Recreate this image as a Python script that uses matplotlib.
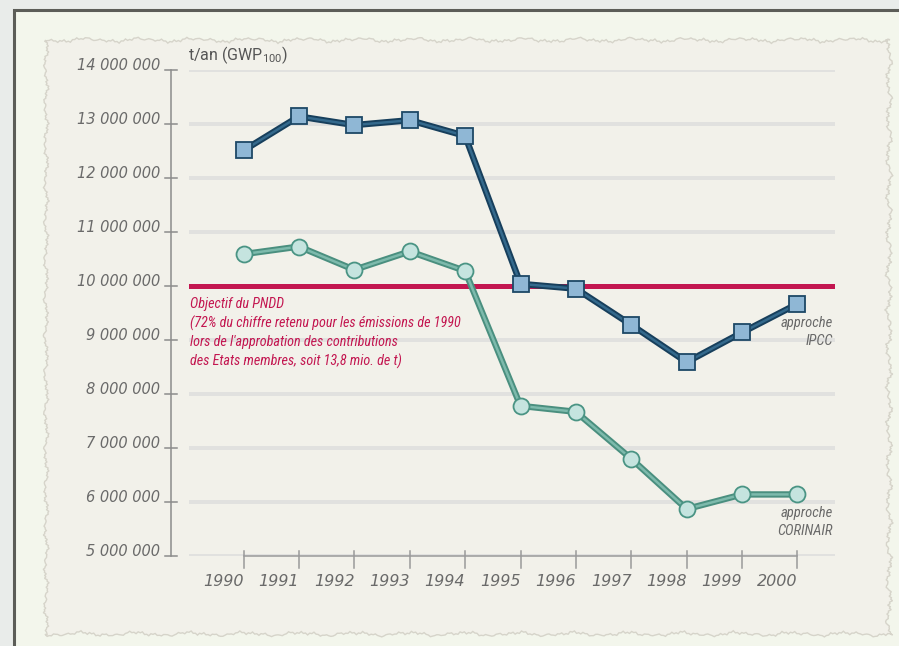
import matplotlib.pyplot as plt
import numpy as np
from matplotlib.patches import Polygon, Rectangle
from matplotlib.transforms import blended_transform_factory, offset_copy

# data
years = [1990, 1991, 1992, 1993, 1994, 1995, 1996, 1997, 1998, 1999, 2000]
ipcc = [12510000, 13140000, 12980000, 13070000, 12780000, 10040000,
        9950000, 9280000, 8590000, 9140000, 9670000]
corinair = [10590000, 10730000, 10300000, 10640000, 10280000, 7780000,
            7670000, 6800000, 5870000, 6140000, 6140000]
objectif = 10000000
y_ticks = [5000000, 6000000, 7000000, 8000000, 9000000, 10000000,
           11000000, 12000000, 13000000, 14000000]
y_tick_labels = ['5 000 000', '6 000 000', '7 000 000', '8 000 000', '9 000 000',
                 '10 000 000', '11 000 000', '12 000 000', '13 000 000', '14 000 000']
year_labels = [str(y) for y in years]
note_lines = ['Objectif du PNDD',
              '(72% du chiffre retenu pour les émissions de 1990',
              "lors de l'approbation des contributions",
              'des Etats membres, soit 13,8 mio. de t)']

W, H = 899, 646
fam = ['DejaVu Sans']
cond = ['Roboto Condensed', 'Roboto', 'DejaVu Sans']
grey_txt = '#6a6a6a'
red = '#c31650'

def fx(px):
	return px / W

def fy(py):
	return 1 - py / H

fig = plt.figure(figsize=(W / 100, H / 100), dpi=100)
fig.patch.set_facecolor('#e9ecea')

# frame
frame = Rectangle((fx(14), -0.1), 1.2, fy(10) + 0.1, transform=fig.transFigure,
                  facecolor='#f3f6ec', edgecolor='#5c5d58', lw=2.2, zorder=-20)
fig.add_artist(frame)

# torn paper sheet (deterministic ragged edge)
t = np.linspace(0, 1, 400)
rag = lambda s: (1.4 * np.sin(s * 97) + 0.9 * np.sin(s * 431 + 1.7)
                 + 0.7 * np.sin(s * 1303 + 0.3) + 0.5 * np.sin(s * 2711 + 2.1))
top = np.column_stack((45 + t * 845, 40 + rag(t)))
right = np.column_stack((889 + 1.3 * rag(t + 0.37), 40 + t * 595))
bottom = np.column_stack((890 - t * 845, 634 + rag(t + 0.71)))
left = np.column_stack((46 + rag(t + 0.13), 635 - t * 595))
pts = np.vstack((top, right, bottom, left))
pts = np.column_stack((pts[:, 0] / W, 1 - pts[:, 1] / H))
paper = Polygon(pts, closed=True, transform=fig.transFigure, facecolor='#f2f1ea',
                edgecolor='#d6d4ca', lw=1.0, zorder=-10)
fig.add_artist(paper)

# axes placed on the grid area
ax = fig.add_axes([fx(189), 90 / H, 646 / W, 486 / H])
ax.set_facecolor('none')
ax.set_xlim(1989.016, 2000.677)
ax.set_ylim(5000000, 14000000)
for sp in ax.spines.values():
	sp.set_visible(False)
ax.set_xticks([])
ax.set_yticks([])

# grid lines
for v in y_ticks:
	ax.axhline(v, color='#e1e1df', lw=2.8, zorder=1)

bt = blended_transform_factory(ax.transAxes, ax.transData)
ax_x = -18 / 646
ax.plot([ax_x, ax_x], [y_ticks[0], y_ticks[-1]], transform=bt, color='#8c8c8c',
        lw=1.1, clip_on=False, zorder=2)
lab_tr = offset_copy(bt, fig=fig, x=0, y=4, units='dots')
for v, lab in zip(y_ticks, y_tick_labels):
	ax.plot([ax_x - 6 / 646, ax_x + 6 / 646], [v, v], transform=bt, color='#8c8c8c',
	        lw=1.1, clip_on=False, zorder=2)
	ax.text(-29 / 646, v, lab, transform=lab_tr, ha='right', va='center',
	        fontsize=10.5, style='italic', color=grey_txt, family=fam)

# x axis
ax.plot([years[0], years[-1]], [y_ticks[0], y_ticks[0]], color='#9a9a9a', lw=1.1,
        clip_on=False, zorder=2)
xt = blended_transform_factory(ax.transData, fig.transFigure)
for yr, lab in zip(years, year_labels):
	ax.plot([yr, yr], [fy(551), fy(568)], transform=xt, color='#9a9a9a', lw=1.1,
	        clip_on=False, zorder=2)
	ax.text(yr, fy(581), lab, transform=xt, ha='right', va='center', fontsize=11.5,
	        style='italic', color=grey_txt, family=fam)

# objective line
ax.axhline(objectif, color=red, lw=3.6, zorder=3)

# series
ax.plot(years, ipcc, color='#173f5c', lw=4.6, zorder=4, solid_capstyle='round',
        solid_joinstyle='round')
ax.plot(years, ipcc, color='#34698c', lw=1.8, zorder=4, solid_joinstyle='round')
ax.plot(years, ipcc, ls='none', marker='s', ms=11.5, mfc='#8fb7d5', mec='#1d4866',
        mew=1.3, zorder=5)
ax.plot(years, corinair, color='#4a8f7f', lw=4.6, zorder=4, solid_capstyle='round',
        solid_joinstyle='round')
ax.plot(years, corinair, color='#7dbaac', lw=1.8, zorder=4, solid_joinstyle='round')
ax.plot(years, corinair, ls='none', marker='o', ms=11.5, mfc='#c5e4df', mec='#4a9484',
        mew=1.3, zorder=5)

# texts
fig.text(fx(188), fy(55), 't/an (GWP$_{\\mathregular{100}}$)', ha='left', va='center',
         fontsize=11.5, color='#555555', family=['Roboto', 'DejaVu Sans'])
for i, line in enumerate(note_lines):
	fig.text(fx(190), fy(304 + i * 19), line, ha='left', va='center', fontsize=10.2,
	         style='italic', color=red, family=cond)
fig.text(fx(833), fy(323), 'approche', ha='right', va='center', fontsize=10.5,
         style='italic', color=grey_txt, family=cond)
fig.text(fx(833), fy(341), 'IPCC', ha='right', va='center', fontsize=10.5,
         style='italic', color=grey_txt, family=cond)
fig.text(fx(833), fy(513), 'approche', ha='right', va='center', fontsize=10.5,
         style='italic', color=grey_txt, family=cond)
fig.text(fx(833), fy(531), 'CORINAIR', ha='right', va='center', fontsize=10.5,
         style='italic', color=grey_txt, family=cond)

fig.savefig('out.png', dpi=100)
